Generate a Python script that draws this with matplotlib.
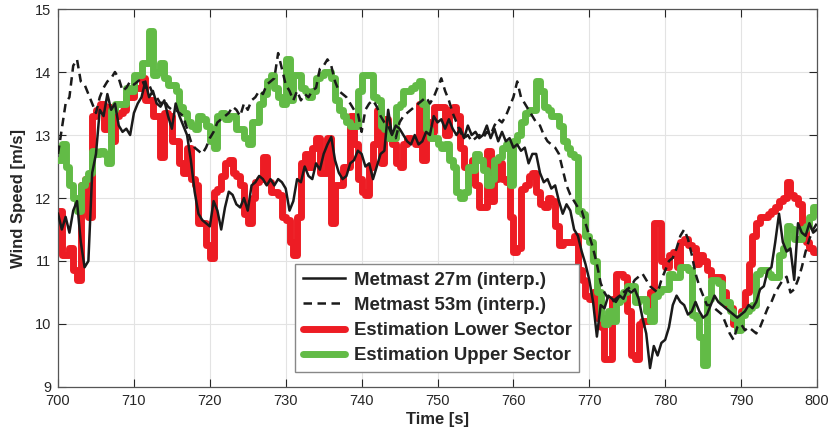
import numpy as np
import matplotlib
matplotlib.use("Agg")
import matplotlib.pyplot as plt

plt.rcParams['font.family'] = ['Liberation Sans', 'DejaVu Sans']

# Time base: samples every 0.5 s from 700 s to 800 s
t_start, t_end, dt = 700.0, 800.0, 0.5
time_s = np.arange(t_start, t_end + dt / 2, dt)

# Metmast 27m (interpolated) wind speed [m/s]
metmast_27m = [
    11.75, 11.5, 11.7, 11.45, 11.8, 11.95, 11.3, 10.9, 11.0, 12.4,
    12.7, 13.4, 13.3, 13.65, 13.4, 13.5, 13.15, 13.05, 13.1, 13.0,
    13.35, 13.5, 13.6, 13.85, 13.6, 13.7, 13.5, 13.45, 13.55, 13.3,
    13.1, 13.5, 13.3, 13.15, 13.0, 12.6, 12.1, 11.75, 11.65, 11.6,
    11.55, 11.95, 11.8, 11.5, 11.85, 12.1, 12.05, 11.9, 11.85, 12.0,
    11.8, 12.2, 12.25, 12.35, 12.3, 12.2, 12.3, 12.2, 12.3, 12.25,
    12.15, 11.8, 11.95, 12.3, 12.25, 12.5, 12.35, 12.3, 12.55, 12.45,
    12.7, 12.85, 12.97, 12.6, 12.4, 12.3, 12.35, 12.55, 12.6, 12.75,
    12.7, 12.5, 12.55, 12.3, 12.5, 12.7, 12.75, 13.4, 13.0, 13.15,
    13.1, 13.0, 12.9, 12.85, 13.0, 12.85, 12.9, 13.05, 13.0, 13.3,
    13.2, 13.25, 13.1, 13.25, 13.1, 13.0, 13.1, 12.95, 13.15, 13.0,
    13.05, 12.95, 13.0, 13.15, 12.95, 13.1, 12.9, 13.05, 12.9, 12.95,
    12.8, 12.85, 12.75, 12.8, 12.55, 12.7, 12.7, 12.4, 12.25, 12.3,
    12.15, 12.2, 11.95, 11.75, 11.9, 11.8, 11.5, 11.4, 11.15, 10.95,
    10.7, 10.35, 9.8, 10.3, 10.25, 10.45, 10.4, 10.35, 10.45, 10.4,
    10.55, 10.5, 10.55, 10.4, 10.1, 9.85, 9.3, 9.65, 9.5, 9.7,
    9.75, 9.95, 10.3, 10.45, 10.35, 10.3, 10.15, 10.2, 10.35, 10.2,
    10.1, 10.15, 10.3, 10.45, 10.35, 10.3, 10.25, 10.2, 10.15, 10.1,
    10.15, 10.2, 10.3, 10.25, 10.35, 10.55, 10.6, 10.85, 10.9, 11.3,
    11.75, 11.3, 11.15, 11.2, 10.7, 11.6, 11.45, 11.4, 11.6, 11.45,
    11.5,
]

# Metmast 53m (interpolated) wind speed [m/s]
metmast_53m = [
    12.7, 13.1, 13.5, 13.6, 14.1, 14.2, 13.85, 13.8, 13.65, 13.5,
    13.35, 13.6, 13.75, 13.85, 13.9, 14.0, 13.9, 13.7, 13.75, 13.85,
    13.8, 13.85, 13.9, 13.75, 13.8, 13.65, 13.6, 13.5, 13.55, 13.45,
    13.4, 13.4, 13.35, 13.3, 13.1, 12.9, 12.8, 12.75, 12.7, 12.8,
    12.95, 13.05, 13.2, 13.25, 13.3, 13.35, 13.45, 13.4, 13.3, 13.5,
    13.4, 13.55, 13.6, 13.7, 13.65, 13.8, 13.85, 13.9, 14.3, 14.05,
    13.8, 13.7, 13.55, 13.7, 13.55, 13.65, 13.6, 13.7, 13.75, 14.05,
    14.1, 14.2, 14.1, 13.85, 13.7, 13.65, 13.6, 13.5, 13.4, 13.35,
    13.05, 13.4, 13.5, 13.55, 13.45, 13.3, 13.2, 13.15, 13.0, 12.95,
    13.2, 13.3, 13.35, 13.4, 13.45, 13.5, 13.55, 13.6, 13.5, 13.6,
    13.75, 13.9, 13.7, 13.55, 13.35, 13.2, 13.05, 12.95, 13.0, 12.9,
    12.95, 13.0, 12.95, 13.05, 13.0, 13.15, 13.25, 13.2, 13.3, 13.45,
    13.6, 13.85, 13.6, 13.5, 13.4, 13.3, 13.2, 13.15, 13.0, 12.9,
    12.85, 12.8, 12.7, 12.45, 12.2, 12.05, 11.95, 11.85, 11.8, 11.6,
    11.4, 11.2, 10.95, 10.65, 10.5, 10.4, 10.35, 10.4, 10.45, 10.5,
    10.55, 10.6, 10.7, 10.75, 10.8, 10.7, 10.6, 10.55, 10.5, 10.7,
    10.85, 11.0, 11.05, 11.2, 11.4, 11.5, 11.35, 11.1, 10.8, 10.6,
    10.45, 10.3, 10.3, 10.25, 10.2, 10.15, 10.0, 9.85, 9.75, 9.95,
    10.0, 9.9, 9.95, 9.9, 9.85, 9.95, 10.1, 10.25, 10.35, 10.5,
    10.6, 10.7, 10.75, 10.5, 10.55, 10.7, 10.9, 11.15, 11.35, 11.5,
    11.6,
]

# Estimated wind speed, lower rotor sector [m/s]
est_lower = [
    11.8, 11.1, 11.1, 11.2, 10.85, 10.7, 12.2, 12.3, 11.7, 13.3,
    13.4, 13.5, 13.1, 13.45, 12.9, 13.3, 13.35, 13.4, 13.6, 13.6,
    13.75, 13.75, 13.9, 13.55, 13.55, 13.3, 13.3, 12.65, 13.35, 13.3,
    12.9, 12.9, 12.55, 12.4, 12.8, 12.3, 12.2, 11.6, 11.6, 11.25,
    11.05, 12.1, 12.15, 12.35, 12.55, 12.6, 12.4, 12.35, 12.2, 11.75,
    11.6, 12.0, 12.25, 12.3, 12.65, 12.25, 12.1, 12.1, 12.05, 11.7,
    11.65, 11.3, 11.1, 11.7, 12.55, 12.7, 12.5, 12.8, 12.95, 12.4,
    12.4, 12.95, 11.6, 12.2, 12.2, 12.5, 12.5, 13.3, 12.85, 12.3,
    12.1, 12.05, 12.5, 12.85, 13.4, 12.55, 13.25, 13.0, 12.85, 12.55,
    12.5, 12.85, 12.95, 12.9, 12.85, 13.5, 12.6, 13.2, 13.05, 13.45,
    13.45, 13.45, 13.0, 13.4, 13.45, 13.3, 12.8, 12.5, 12.25, 12.6,
    12.2, 11.85, 11.85, 12.75, 11.95, 12.3, 12.55, 12.3, 12.25, 11.7,
    11.15, 11.2, 12.15, 12.2, 12.35, 12.4, 12.1, 11.9, 11.85, 12.0,
    11.95, 11.55, 11.25, 11.3, 11.3, 11.3, 11.4, 10.85, 10.7, 10.45,
    10.4, 10.5, 10.1, 9.95, 9.45, 9.45, 10.4, 10.8, 10.8, 10.75,
    10.2, 9.5, 9.45, 10.0, 10.05, 10.05, 10.5, 11.6, 11.6, 11.0,
    10.9, 11.1, 11.15, 10.9, 11.3, 11.35, 11.25, 11.2, 10.95, 11.1,
    11.0, 10.85, 10.75, 10.75, 10.75, 10.5, 10.3, 10.25, 10.0, 9.95,
    10.2, 10.5, 10.95, 11.4, 11.6, 11.7, 11.7, 11.75, 11.8, 11.85,
    11.95, 12.0, 12.25, 12.05, 12.0, 11.9, 11.5, 11.3, 11.2, 11.15,
    11.15,
]

# Estimated wind speed, upper rotor sector [m/s]
est_upper = [
    12.6, 12.85, 12.5, 12.2, 12.0, 11.8, 12.2, 12.3, 12.4, 12.75,
    12.7, 12.75, 12.7, 12.55, 13.4, 13.5, 13.5, 13.5, 13.75, 13.7,
    13.95, 13.95, 14.15, 14.15, 14.65, 13.95, 14.0, 14.15, 13.9, 13.8,
    13.8, 13.7, 13.45, 13.35, 13.2, 13.15, 13.1, 13.3, 13.25, 13.15,
    12.9, 12.8, 13.3, 13.35, 13.25, 13.3, 13.3, 13.1, 13.1, 12.95,
    12.85, 13.2, 13.2, 13.5, 13.65, 13.85, 13.95, 13.75, 13.6, 13.5,
    14.2, 13.55, 13.95, 13.95, 13.75, 13.7, 13.6, 13.7, 13.9, 13.95,
    14.0, 14.0, 13.9, 13.55, 13.4, 13.3, 13.2, 13.15, 13.15, 13.7,
    13.95, 13.95, 13.95, 13.6, 13.55, 13.15, 13.1, 12.95, 12.95, 13.45,
    13.5, 13.7, 13.7, 13.75, 13.8, 13.85, 13.5, 13.1, 12.95, 12.95,
    12.85, 12.8, 12.85, 12.6, 12.5, 12.1, 12.0, 12.1, 12.5, 12.45,
    12.7, 12.6, 12.45, 12.2, 12.3, 12.6, 12.65, 12.8, 12.85, 12.2,
    12.9, 13.0, 13.2, 13.35, 13.4, 13.4, 13.85, 13.7, 13.45, 13.4,
    13.3, 13.3, 13.15, 12.9, 12.8, 12.7, 12.65, 11.8, 11.75, 11.4,
    11.3, 11.0, 10.5, 10.1, 10.0, 10.2, 10.05, 10.35, 10.4, 10.5,
    10.6, 10.6, 10.35, 10.4, 10.4, 10.2, 10.05, 10.45, 10.5, 10.55,
    10.55, 10.8, 10.75, 10.75, 10.9, 10.9, 10.85, 10.15, 10.1, 9.8,
    9.35, 10.4, 10.7, 10.7, 10.65, 10.35, 10.35, 10.2, 10.1, 9.9,
    10.15, 10.2, 10.25, 10.3, 10.8, 10.85, 10.85, 10.8, 10.75, 10.75,
    11.1, 11.2, 11.55, 11.5, 11.35, 11.35, 11.5, 11.55, 11.7, 11.85,
    11.8,
]

x_ticks = [700, 710, 720, 730, 740, 750, 760, 770, 780, 790, 800]
y_ticks = [9, 10, 11, 12, 13, 14, 15]

axis_color = '#262626'
red = '#ED1C24'
green = '#62BB46'

fig = plt.figure(figsize=(8.29, 4.44), dpi=100)
ax = fig.add_axes([0.070, 0.1284, 0.9155, 0.8513])

ax.step(time_s, est_lower, where='post', color=red, lw=5.0,
        solid_joinstyle='round', solid_capstyle='round',
        label='Estimation Lower Sector', zorder=2)
ax.step(time_s, est_upper, where='post', color=green, lw=5.0,
        solid_joinstyle='round', solid_capstyle='round',
        label='Estimation Upper Sector', zorder=3)
ax.plot(time_s, metmast_27m, color='#1a1a1a', lw=1.8,
        label='Metmast 27m (interp.)', zorder=4)
ax.plot(time_s, metmast_53m, color='#1a1a1a', lw=1.8,
        dashes=(3.4, 2.2), label='Metmast 53m (interp.)', zorder=5)

ax.set_xlim(t_start, t_end)
ax.set_ylim(9, 15)
ax.set_xticks(x_ticks)
ax.set_yticks(y_ticks)
ax.grid(True, color='#e3e3e3', lw=0.8)
ax.set_axisbelow(True)
ax.tick_params(direction='in', length=6, width=0.8, colors=axis_color,
               labelsize=10.5, top=True, right=True, pad=5)
for s in ax.spines.values():
    s.set_color('#555555')
    s.set_linewidth(0.9)

ax.set_xlabel('Time [s]', fontsize=12, fontweight='bold', color=axis_color,
              labelpad=3)
ax.set_ylabel('Wind Speed [m/s]', fontsize=12, fontweight='bold',
              color=axis_color, labelpad=6)

handles, labels = ax.get_legend_handles_labels()
order = [labels.index('Metmast 27m (interp.)'),
         labels.index('Metmast 53m (interp.)'),
         labels.index('Estimation Lower Sector'),
         labels.index('Estimation Upper Sector')]
leg = ax.legend([handles[i] for i in order], [labels[i] for i in order],
                loc='lower left', bbox_to_anchor=(0.3125, 0.040),
                prop={'weight': 'bold', 'size': 13.4},
                handlelength=2.3, handletextpad=0.45, borderpad=0.4,
                borderaxespad=0.0, labelspacing=0.44, fancybox=False,
                framealpha=1, edgecolor='#888888')
leg.get_frame().set_linewidth(1.0)
for txt in leg.get_texts():
    txt.set_color(axis_color)

fig.savefig('out.png', dpi=100)
